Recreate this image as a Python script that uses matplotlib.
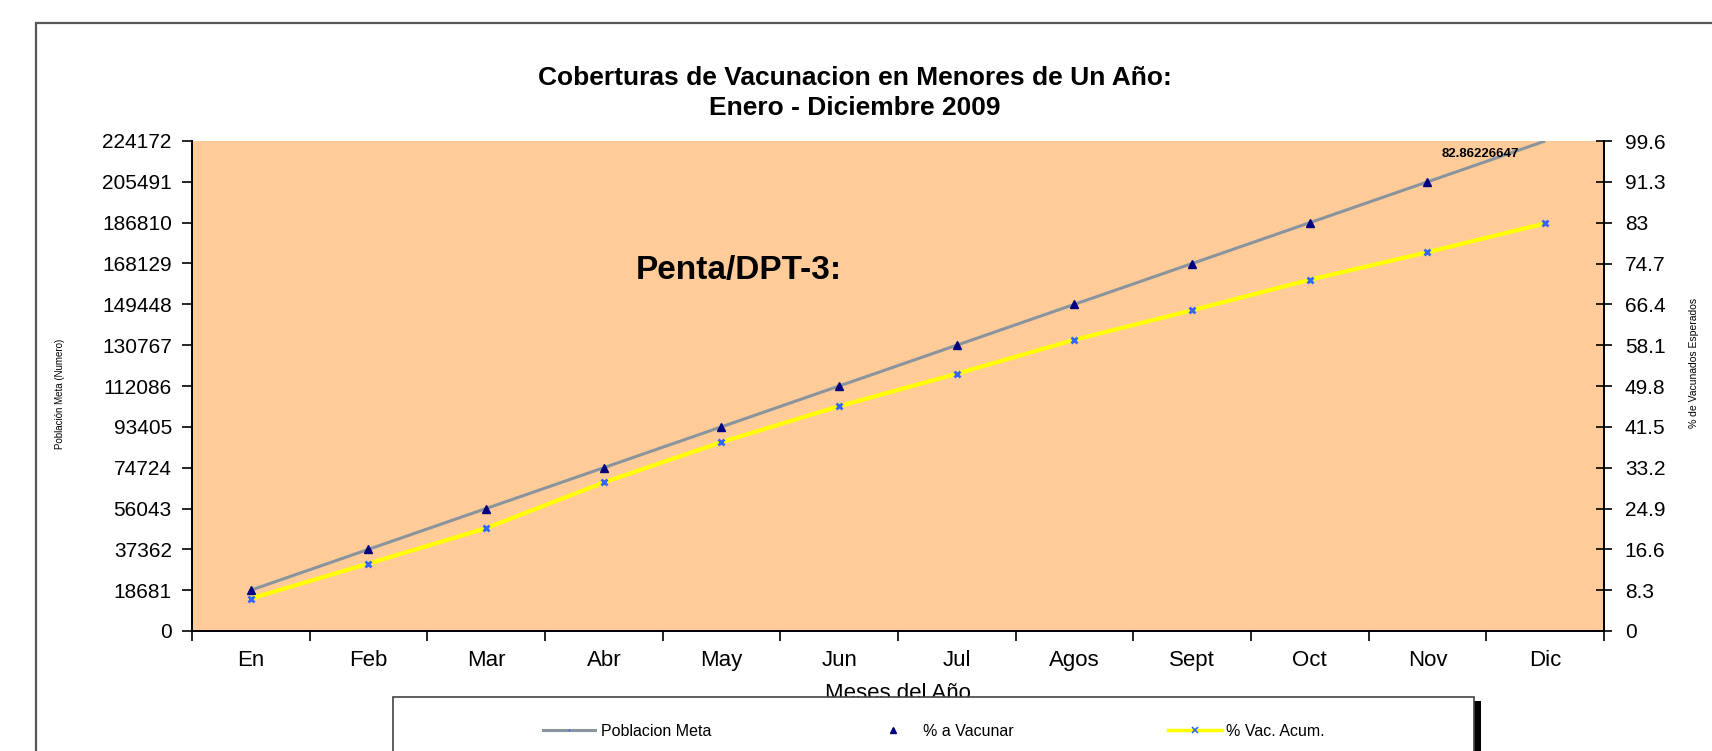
import matplotlib
matplotlib.use("Agg")
import matplotlib.pyplot as plt
import numpy as np
from matplotlib.patches import Rectangle
from matplotlib.lines import Line2D

plt.rcParams['font.family'] = ['Liberation Sans', 'DejaVu Sans']

meses = ["En", "Feb", "Mar", "Abr", "May", "Jun", "Jul", "Agos", "Sept", "Oct", "Nov", "Dic"]
poblacion_meta = [18681, 37362, 56043, 74724, 93405, 112086, 130767, 149448,
                  168129, 186810, 205491, 224172]
pct_a_vacunar = [8.3, 16.6, 24.9, 33.2, 41.5, 49.8, 58.1, 66.4, 74.7, 83.0, 91.3, np.nan]
pct_vac_acum = [6.6, 13.7, 20.9, 30.2, 38.4, 45.7, 52.3, 59.2, 65.2, 71.4, 77.0, 82.86226647]
left_ticks = [0, 18681, 37362, 56043, 74724, 93405, 112086, 130767, 149448,
              168129, 186810, 205491, 224172]
right_ticks = [0, 8.3, 16.6, 24.9, 33.2, 41.5, 49.8, 58.1, 66.4, 74.7, 83.0, 91.3, 99.6]
right_labels = ["0", "8.3", "16.6", "24.9", "33.2", "41.5", "49.8", "58.1", "66.4",
                "74.7", "83", "91.3", "99.6"]
etiqueta_dic = "82.86226647"

W, H = 1712, 751
fig = plt.figure(figsize=(W / 100, H / 100), dpi=100)
L, R, T, B = 192, 1604, 141, 631
ax = fig.add_axes([L / W, 1 - B / H, (R - L) / W, (B - T) / H])
ax2 = ax.twinx()
ax.set_zorder(1)
ax2.set_zorder(2)
ax2.patch.set_visible(False)
ax.set_facecolor('#FFCC99')

x = np.arange(len(meses)) + 0.5
ax.plot(x, poblacion_meta, color='#8a949e', lw=2.2, solid_capstyle='butt', clip_on=True)
ax2.plot(x, pct_a_vacunar, linestyle='none', marker='^', color='#000080', ms=6)
ax2.plot(x, pct_vac_acum, color='#FFFF00', lw=3, marker='x', ms=5, mec='#3366FF', mew=2)

ax.set_xlim(0, 12)
ax.set_ylim(0, 224172)
ax2.set_ylim(0, 99.6)
ax.set_xticks(np.arange(13))
ax.set_xticklabels([])
ax.set_xticks(x, minor=True)
ax.set_xticklabels(meses, minor=True, fontsize=16)
ax.tick_params(axis='x', which='minor', length=0, pad=14)
ax.tick_params(axis='x', which='major', length=7, width=1.2, direction='out')
ax.set_yticks(left_ticks)
ax.set_yticklabels([str(v) for v in left_ticks], fontsize=15)
ax.tick_params(axis='y', length=7, width=1.2, direction='out', pad=7.5)
ax2.set_yticks(right_ticks)
ax2.set_yticklabels(right_labels, fontsize=15)
ax2.tick_params(axis='y', length=12, width=1.2, direction='inout', pad=9)

for a in (ax, ax2):
    a.spines['top'].set_visible(False)
    for s in ('left', 'right', 'bottom'):
        a.spines[s].set_linewidth(1.3)
        a.spines[s].set_color('black')

ax.set_xlabel("Meses del Año", fontsize=16, labelpad=8)
fig.text(60 / W, 1 - 394 / H, "Población Meta (Numero)", fontsize=7, rotation=90,
         ha='center', va='center')
fig.text(1694 / W, 1 - 363 / H, "% de Vacunados Esperados", fontsize=7.5, rotation=90,
         ha='center', va='center')

ax2.text(10.95, 97.0, etiqueta_dic, fontsize=9.5, fontweight='bold', ha='center', va='center')
ax.text(0.387, 0.735, "Penta/DPT-3:", transform=ax.transAxes, fontsize=24,
        fontweight='bold', ha='center', va='center')

fig.text(855 / W, 1 - 78 / H, "Coberturas de Vacunacion en Menores de Un Año:",
         fontsize=19, fontweight='bold', ha='center', va='center')
fig.text(855 / W, 1 - 108 / H, "Enero - Diciembre 2009",
         fontsize=19, fontweight='bold', ha='center', va='center')

# outer chart border
fig.patches.append(Rectangle((36 / W, -0.2), 1.2, 1.2 - 23 / H, transform=fig.transFigure,
                             fill=False, edgecolor='#555555', lw=1.6))
# legend box with shadow
fig.patches.append(Rectangle((399 / W, -0.2), (1481 - 399) / W, 0.2 + 1 - 701 / H,
                             transform=fig.transFigure, facecolor='black', edgecolor='none', zorder=3))
fig.patches.append(Rectangle((393 / W, -0.2), (1474 - 393) / W, 0.2 + 1 - 697 / H,
                             transform=fig.transFigure, facecolor='white', edgecolor='#444444',
                             lw=1.2, zorder=4))

fs_leg = 11.5
ly = 1 - 731 / H
entries = [
    (Line2D([], [], color='#8a949e', lw=2.2, marker='|', ms=2, mec='#3366FF'),
     "Poblacion Meta", 543, 3.25, 0.41),
    (Line2D([], [], linestyle='none', marker='^', color='#000080', ms=4),
     "% a Vacunar", 885, 1.0, 1.4),
    (Line2D([], [], color='#FFFF00', lw=2.5, marker='x', ms=4, mec='#3366FF', mew=1.2),
     "% Vac. Acum.", 1168, 3.4, 0.25),
]
for h, lab, x0, hl, tp in entries:
    lg = fig.legend([h], [lab], loc='center left', bbox_to_anchor=(x0 / W, ly),
                    frameon=False, fontsize=fs_leg, handlelength=hl, handletextpad=tp,
                    borderpad=0, borderaxespad=0)
    lg.set_zorder(5)

fig.savefig("out.png", dpi=100)
